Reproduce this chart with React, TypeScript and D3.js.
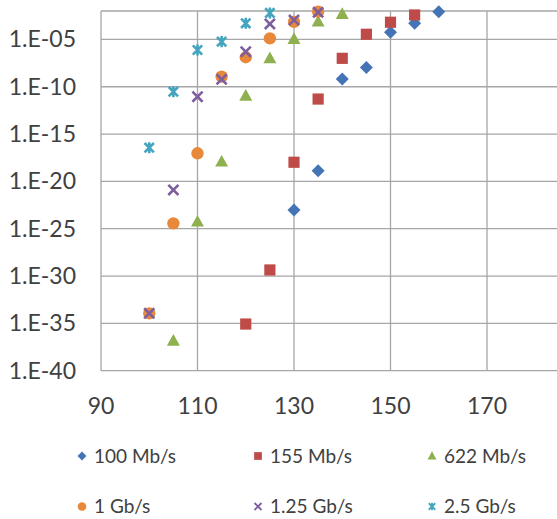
import React from "react";
import * as d3 from "d3";

const W = 557;
const H = 519;

const xTicks = [90, 110, 130, 150, 170];
const yTicks = [1e-5, 1e-10, 1e-15, 1e-20, 1e-25, 1e-30, 1e-35, 1e-40];
const yTickLabels = ["1.E-05", "1.E-10", "1.E-15", "1.E-20", "1.E-25", "1.E-30", "1.E-35", "1.E-40"];

const x100M = [130, 135, 140, 145, 150, 155, 160];
const y100M = [9.5e-24, 1.3e-19, 6.6e-10, 1.1e-8, 5.6e-5, 5e-4, 8.5e-3];

const x155M = [120, 125, 130, 135, 140, 145, 150, 155];
const y155M = [8.5e-36, 4.4e-30, 1.05e-18, 5e-12, 1e-7, 3.5e-5, 6.5e-4, 3.8e-3];

const x622M = [105, 110, 115, 120, 125, 130, 135, 140];
const y622M = [1.4e-37, 5.5e-25, 1.2e-18, 1.1e-11, 1e-7, 1.1e-5, 7.4e-4, 4.8e-3];

const x1G = [100, 105, 110, 115, 120, 125, 130, 135];
const y1G = [1.15e-34, 3.7e-25, 9.3e-18, 1.15e-9, 1.3e-7, 1.3e-5, 7e-4, 8.5e-3];

const x125G = [100, 105, 110, 115, 120, 125, 130, 135];
const y125G = [1.15e-34, 1.25e-21, 8.9e-12, 6e-10, 5e-7, 4.3e-4, 1.1e-3, 7.2e-3];

const x25G = [100, 105, 110, 115, 120, 125];
const y25G = [3.6e-17, 3e-11, 7.6e-7, 5.8e-6, 5e-4, 6.2e-3];

const seriesNames = ["100 Mb/s", "155 Mb/s", "622 Mb/s", "1 Gb/s", "1.25 Gb/s", "2.5 Gb/s"];
const seriesColors = ["#4473B6", "#BE4B48", "#8FB04E", "#E8883A", "#7D5F9E", "#45A5BF"];
const seriesMarkers = ["diamond", "square", "triangle", "circle", "x", "star"];
const seriesX = [x100M, x155M, x622M, x1G, x125G, x25G];
const seriesY = [y100M, y155M, y622M, y1G, y125G, y25G];

const FONT = "Lato, 'Open Sans', sans-serif";
const TEXT = "#404040";
const GRID = "#A6A6A6";

function Marker({ kind, color, cx, cy, s }: { kind: string; color: string; cx: number; cy: number; s: number }) {
  const h = s / 2;
  if (kind === "diamond") {
    return <path d={`M${cx},${cy - h}L${cx + h},${cy}L${cx},${cy + h}L${cx - h},${cy}Z`} fill={color} />;
  }
  if (kind === "square") {
    const q = h * 0.86;
    return <rect x={cx - q} y={cy - q} width={2 * q} height={2 * q} fill={color} />;
  }
  if (kind === "triangle") {
    return <path d={`M${cx},${cy - h * 1.05}L${cx + h},${cy + h * 0.75}L${cx - h},${cy + h * 0.75}Z`} fill={color} />;
  }
  if (kind === "circle") {
    return <circle cx={cx} cy={cy} r={h * 0.95} fill={color} />;
  }
  if (kind === "x") {
    const q = h * 0.78;
    return (
      <path
        d={`M${cx - q},${cy - q}L${cx + q},${cy + q}M${cx + q},${cy - q}L${cx - q},${cy + q}`}
        stroke={color}
        strokeWidth={s * 0.2}
        fill="none"
      />
    );
  }
  const q = h * 0.72;
  return (
    <path
      d={`M${cx - q},${cy - q}L${cx + q},${cy + q}M${cx + q},${cy - q}L${cx - q},${cy + q}M${cx},${cy - h * 0.85}L${cx},${cy + h * 0.85}`}
      stroke={color}
      strokeWidth={s * 0.2}
      fill="none"
    />
  );
}

export default function App() {
  const left = 101;
  const top = 11;
  const bottom = 370.7;
  const x = d3.scaleLinear().domain([90, 190]).range([left, left + 100 * 4.825]);
  const y = d3.scaleLog().domain([1e-40, 1e-2]).range([bottom, top]);

  const legendCols = [82, 258, 432];
  const legendRows = [456, 506.5];

  return (
    <svg
      width={W}
      height={H}
      style={{ position: "absolute", left: 0, top: 0, background: "#fff" }}
      fontFamily={FONT}
    >
      <defs>
        <clipPath id="plotclip">
          <rect x={0} y={0} width={W} height={bottom + 8} />
        </clipPath>
      </defs>
      {/* horizontal grid */}
      {[...yTicks, 1e-2].map((t, i) => (
        <line key={"h" + i} x1={left} x2={W} y1={y(t)} y2={y(t)} stroke={GRID} strokeWidth={1.3} />
      ))}
      {/* vertical grid */}
      {xTicks.map((t, i) => (
        <line key={"v" + i} x1={x(t)} x2={x(t)} y1={top} y2={bottom} stroke={GRID} strokeWidth={1.3} />
      ))}
      {/* y labels */}
      {yTicks.map((t, i) => (
        <text
          key={"yl" + i}
          x={left - 25}
          y={y(t)}
          dy="0.35em"
          textAnchor="end"
          fontSize={23}
          fill={TEXT}
        >
          {yTickLabels[i]}
        </text>
      ))}
      {/* x labels */}
      {xTicks.map((t, i) => (
        <text key={"xl" + i} x={x(t)} y={414} textAnchor="middle" fontSize={23} fill={TEXT}>
          {t}
        </text>
      ))}
      {/* points */}
      <g clipPath="url(#plotclip)">
        {seriesNames.map((name, si) =>
          seriesX[si].map((xv, pi) => (
            <Marker
              key={name + pi}
              kind={seriesMarkers[si]}
              color={seriesColors[si]}
              cx={x(xv)}
              cy={y(seriesY[si][pi])}
              s={13}
            />
          ))
        )}
      </g>
      {/* legend */}
      {seriesNames.map((name, si) => {
        const cx = legendCols[si % 3];
        const cy = legendRows[Math.floor(si / 3)];
        return (
          <g key={"lg" + si}>
            <Marker kind={seriesMarkers[si]} color={seriesColors[si]} cx={cx} cy={cy} s={9} />
            <text x={cx + 12} y={cy} dy="0.36em" fontSize={19} fill={TEXT}>
              {name}
            </text>
          </g>
        );
      })}
    </svg>
  );
}
